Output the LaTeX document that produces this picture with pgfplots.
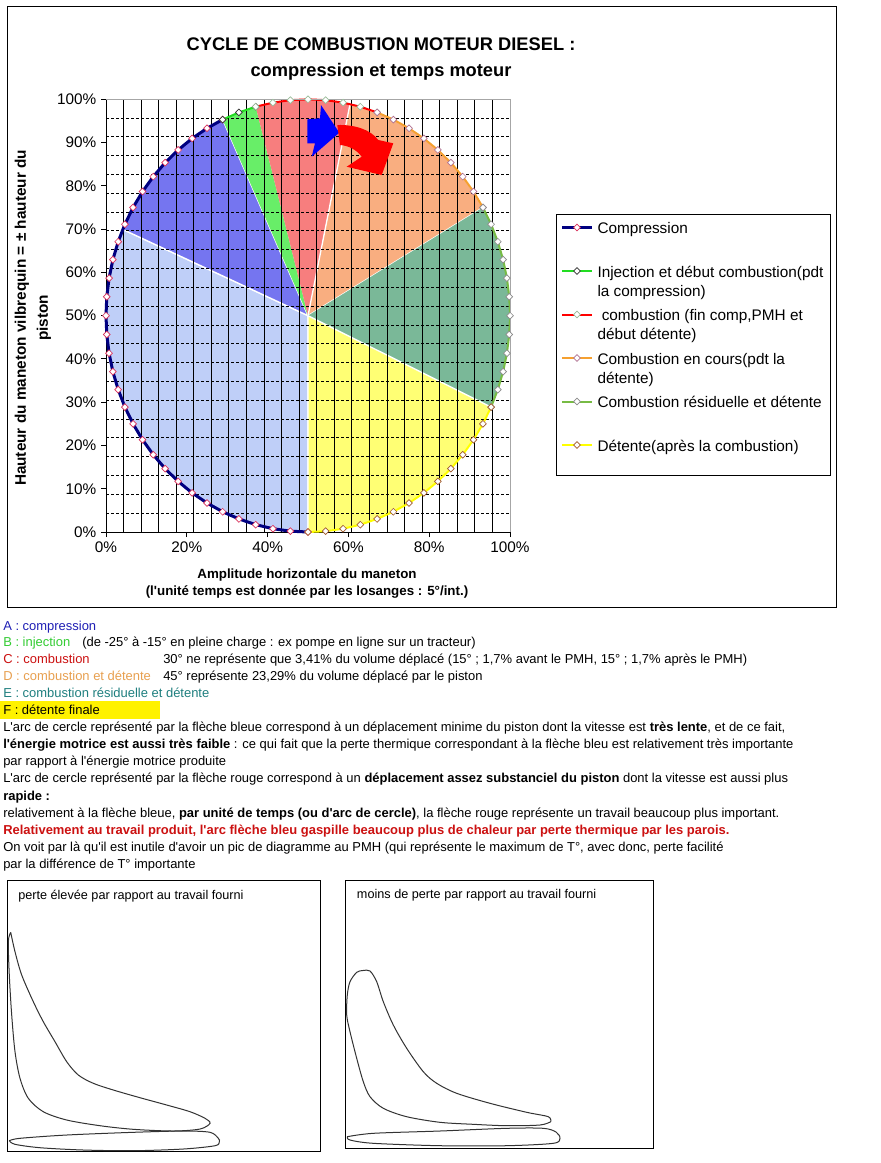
\documentclass[border=0pt]{standalone}
\usepackage{fontspec}
\setmainfont{Liberation Sans}
\usepackage{pgfplots}
\pgfplotsset{compat=1.18}

\definecolor{pieA}{HTML}{BFCFF8}
\definecolor{pieB}{HTML}{7575F0}
\definecolor{pieC}{HTML}{68EE68}
\definecolor{pieD}{HTML}{F77E7E}
\definecolor{pieE}{HTML}{F9AE80}
\definecolor{pieF}{HTML}{7AB898}
\definecolor{pieG}{HTML}{FFFF74}
\definecolor{lnavy}{HTML}{000080}
\definecolor{lgreen}{HTML}{22DD22}
\definecolor{lred}{HTML}{FF0000}
\definecolor{lorange}{HTML}{F5A030}
\definecolor{lolive}{HTML}{77BB44}
\definecolor{lyellow}{HTML}{FFFF00}
\definecolor{mkA}{HTML}{D9305A}
\definecolor{mkB}{HTML}{303030}
\definecolor{mkC}{HTML}{99BB99}
\definecolor{mkD}{HTML}{B07090}
\definecolor{mkE}{HTML}{8A8A8A}
\definecolor{mkF}{HTML}{A05A2C}
\definecolor{txA}{HTML}{1F1FB5}
\definecolor{txB}{HTML}{33CC33}
\definecolor{txC}{HTML}{CC1111}
\definecolor{txD}{HTML}{E8A050}
\definecolor{txE}{HTML}{1F7F7F}
\definecolor{curve}{HTML}{333333}

\newcommand\ap{\textquotesingle}

\pgfplotsset{
  diam/.style={mark=square*, mark size=1.8pt, mark options={rotate=45, fill=white, draw=#1, line width=0.5pt, solid}},
  mainbox/.style={at={(79.5pt,-399pt)}, anchor=south west,
    scale only axis, width=303pt, height=324.5pt,
    xmin=0, xmax=100, ymin=0, ymax=100, clip=false},
}

\begin{document}
\begin{tikzpicture}[x=0.75pt,y=-0.75pt]
\fill[white] (0,0) rectangle (881,1163);
\draw[line width=0.75pt] (7,7) rectangle (836,607);

% titre
\node[anchor=base, inner sep=0pt, font=\fontsize{13.7}{16}\selectfont\bfseries] at (381,50.5) {CYCLE DE COMBUSTION MOTEUR DIESEL :};
\node[anchor=base, inner sep=0pt, font=\fontsize{13.7}{16}\selectfont\bfseries] at (381,77) {compression et temps moteur};

% titres des axes
\node[anchor=base, inner sep=0pt, font=\fontsize{10}{12}\selectfont\bfseries] at (307,578) {Amplitude horizontale du maneton};
\node[anchor=base, inner sep=0pt, font=\fontsize{10}{12}\selectfont\bfseries] at (307,595) {(l\ap unité temps est donnée par les losanges : 5°/int.)};
\node[rotate=90, inner sep=0pt, font=\fontsize{11.5}{13}\selectfont\bfseries] at (22,318) {Hauteur du maneton vilbrequin = ± hauteur du};
\node[rotate=90, inner sep=0pt, font=\fontsize{11.5}{13}\selectfont\bfseries] at (44,318) {piston};

% secteurs (fond, sous la grille)
\begin{axis}[mainbox, hide axis]
\addplot[fill=pieA, draw=white, line width=1pt] coordinates {
(50,50) (50,0) (45.64,0.19) (41.32,0.76) (37.06,1.70) (32.90,3.02) (28.87,4.68) (25.00,6.70) (21.32,9.04) (17.86,11.70) (14.64,14.64) (11.70,17.86) (9.04,21.32) (6.70,25.00) (4.68,28.87) (3.02,32.90) (1.70,37.06) (0.76,41.32) (0.19,45.64) (0,50) (0.19,54.36) (0.76,58.68) (1.70,62.94) (3.02,67.10) (4.15,69.94) (50,50)};
\addplot[fill=pieB, draw=white, line width=1pt] coordinates {
(50,50) (4.15,69.94) (4.68,71.13) (6.70,75.00) (9.04,78.68) (11.70,82.14) (14.64,85.36) (17.86,88.30) (21.32,90.96) (25.00,93.30) (28.87,95.32) (50,50)};
\addplot[fill=pieC, draw=none] coordinates {
(50,50) (28.87,95.32) (32.90,96.98) (37.06,98.30) (50,50)};
\addplot[fill=pieD, draw=none] coordinates {
(50,50) (37.06,98.30) (41.32,99.24) (45.64,99.81) (50,100) (54.36,99.81) (58.68,99.24) (60.40,98.91) (50,50)};
\addplot[fill=pieE, draw=white, line width=1pt] coordinates {
(50,50) (60.40,98.91) (62.94,98.30) (67.10,96.98) (71.13,95.32) (75.00,93.30) (78.68,90.96) (82.14,88.30) (85.36,85.36) (88.30,82.14) (90.96,78.68) (93.30,75.00) (50,50)};
\addplot[fill=pieF, draw=none] coordinates {
(50,50) (93.30,75.00) (95.32,71.13) (96.98,67.10) (98.30,62.94) (99.24,58.68) (99.81,54.36) (100,50) (99.81,45.64) (99.24,41.32) (98.30,37.06) (96.98,32.90) (95.32,28.87) (50,50)};
\addplot[fill=pieG, draw=white, line width=1pt] coordinates {
(50,50) (95.32,28.87) (93.30,25.00) (90.96,21.32) (88.30,17.86) (85.36,14.64) (82.14,11.70) (78.68,9.04) (75.00,6.70) (71.13,4.68) (67.10,3.02) (62.94,1.70) (58.68,0.76) (54.36,0.19) (50,0) (50,50)};
\end{axis}

\begin{axis}[mainbox,
  axis line style={black, line width=0.75pt},
  tick pos=left,
  xtick={0,20,40,60,80,100}, xticklabels={0\%,20\%,40\%,60\%,80\%,100\%},
  ytick={0,10,20,30,40,50,60,70,80,90,100},
  yticklabels={0\%,10\%,20\%,30\%,40\%,50\%,60\%,70\%,80\%,90\%,100\%},
  tick align=outside, major tick length=3.75pt,
  tick style={black, line width=0.75pt},
  tick label style={font=\fontsize{11.5}{13}\selectfont},
  extra x ticks={4.35,8.70,13.04,17.39,21.74,26.09,30.43,34.78,39.13,43.48,47.83,52.17,56.52,60.87,65.22,69.57,73.91,78.26,82.61,86.96,91.30,95.65},
  extra x tick labels={},
  extra x tick style={grid=major, major grid style={black, line width=0.75pt}, major tick length=0pt},
  extra y ticks={4.35,8.70,13.04,17.39,21.74,26.09,30.43,34.78,39.13,43.48,47.83,52.17,56.52,60.87,65.22,69.57,73.91,78.26,82.61,86.96,91.30,95.65},
  extra y tick labels={},
  extra y tick style={grid=major, major grid style={black, line width=0.75pt, dash pattern=on 2.25pt off 1.5pt}, major tick length=0pt},
  legend style={at={(1.1139,0.7349)}, anchor=north west, draw=black, line width=0.75pt, fill=white,
    font=\fontsize{11.5}{14.25}\selectfont, inner xsep=3pt, inner ysep=3.9pt,
    row sep=0pt, column sep=3pt, cells={anchor=north west},
    nodes={inner sep=0pt, text depth={}, text height={}}},
  legend image code/.code={\draw[mark repeat=2,mark phase=2] plot coordinates {(0pt,-5.855pt) (11.25pt,-5.855pt) (22.5pt,-5.855pt)};},
]
% arcs de cercle (un losange tous les 5 degres)
\addplot[lnavy, line width=2.25pt, diam=mkA] coordinates {
(50,0) (45.64,0.19) (41.32,0.76) (37.06,1.70) (32.90,3.02) (28.87,4.68) (25.00,6.70) (21.32,9.04) (17.86,11.70) (14.64,14.64) (11.70,17.86) (9.04,21.32) (6.70,25.00) (4.68,28.87) (3.02,32.90) (1.70,37.06) (0.76,41.32) (0.19,45.64) (0,50) (0.19,54.36) (0.76,58.68) (1.70,62.94) (3.02,67.10) (4.68,71.13) (6.70,75.00) (9.04,78.68) (11.70,82.14) (14.64,85.36) (17.86,88.30) (21.32,90.96) (25.00,93.30) (28.87,95.32)};
\addlegendentry{\parbox[t][32.25pt][t]{171.75pt}{\strut Compression}}
\addplot[lgreen, line width=1.5pt, diam=mkB] coordinates {
(28.87,95.32) (32.90,96.98) (37.06,98.30)};
\addlegendentry{\parbox[t][32.25pt][t]{171.75pt}{\strut Injection et début combustion(pdt\\la compression)}}
\addplot[lred, line width=1.5pt, diam=mkC] coordinates {
(37.06,98.30) (41.32,99.24) (45.64,99.81) (50,100) (54.36,99.81) (58.68,99.24) (62.94,98.30) (67.10,96.98)};
\addlegendentry{\parbox[t][32.25pt][t]{171.75pt}{\strut\ combustion (fin comp,PMH et\\début détente)}}
\addplot[lorange, line width=1.5pt, diam=mkD] coordinates {
(67.10,96.98) (71.13,95.32) (75.00,93.30) (78.68,90.96) (82.14,88.30) (85.36,85.36) (88.30,82.14) (90.96,78.68) (93.30,75.00)};
\addlegendentry{\parbox[t][32.25pt][t]{171.75pt}{\strut Combustion en cours(pdt la\\détente)}}
\addplot[lolive, line width=1.5pt, diam=mkE] coordinates {
(93.30,75.00) (95.32,71.13) (96.98,67.10) (98.30,62.94) (99.24,58.68) (99.81,54.36) (100,50) (99.81,45.64) (99.24,41.32) (98.30,37.06) (96.98,32.90) (95.32,28.87)};
\addlegendentry{\parbox[t][32.25pt][t]{171.75pt}{\strut Combustion résiduelle et détente}}
\addplot[lyellow, line width=1.5pt, diam=mkF] coordinates {
(95.32,28.87) (93.30,25.00) (90.96,21.32) (88.30,17.86) (85.36,14.64) (82.14,11.70) (78.68,9.04) (75.00,6.70) (71.13,4.68) (67.10,3.02) (62.94,1.70) (58.68,0.76) (54.36,0.19) (50,0)};
\addlegendentry{\parbox[t][24.75pt][t]{171.75pt}{\strut Détente(après la combustion)}}

% fleches
\fill[blue] (axis cs:49.83,95.38) -- (axis cs:52.97,95.61) -- (axis cs:53.22,98.68) -- (axis cs:57.75,92.28) -- (axis cs:50.92,86.74) -- (axis cs:51.73,89.83) -- (axis cs:49.83,89.83) -- cycle;
\fill[red] (axis cs:57.25,94.06) .. controls (axis cs:61.5,94.2) and (axis cs:65.5,93.0) .. (axis cs:67.40,90.60) -- (axis cs:71.11,89.83) -- (axis cs:68.24,82.51) -- (axis cs:59.58,84.42) -- (axis cs:63.29,86.74) .. controls (axis cs:62.0,88.4) and (axis cs:60.0,89.3) .. (axis cs:57.92,89.44) -- cycle;
\draw[gray!70, line width=0.75pt] (axis cs:0,100) -- (axis cs:100,100) -- (axis cs:100,0);
\end{axis}

% texte
\begin{scope}[every node/.style={anchor=base west, inner sep=0pt}, font=\fontsize{9.72}{12}\selectfont]
\fill[yellow] (0,701) rectangle (160,719);
\node[text=txA] at (3,630) {A : compression};
\node[text=txB] at (3,646.5) {B : injection};
\node at (82,646.5) {(de -25° à -15° en pleine charge : ex pompe en ligne sur un tracteur)};
\node[text=txC] at (3,663.5) {C : combustion};
\node at (163,663.5) {30° ne représente que 3,41\% du volume déplacé (15° ; 1,7\% avant le PMH, 15° ; 1,7\% après le PMH)};
\node[text=txD] at (3,680) {D : combustion et détente};
\node at (163,680) {45° représente 23,29\% du volume déplacé par le piston};
\node[text=txE] at (3,697) {E : combustion résiduelle et détente};
\node at (3,714) {F : détente finale};
\node at (3,731) {L\ap arc de cercle représenté par la flèche bleue correspond à un déplacement minime du piston dont la vitesse est \textbf{très lente}, et de ce fait,};
\node at (3,748.5) {\textbf{l\ap énergie motrice est aussi très faible} : ce qui fait que la perte thermique correspondant à la flèche bleu est relativement très importante};
\node at (3,765.5) {par rapport à l\ap énergie motrice produite};
\node at (3,782.5) {L\ap arc de cercle représenté par la flèche rouge correspond à un \textbf{déplacement assez substanciel du piston} dont la vitesse est aussi plus};
\node at (3,800) {\textbf{rapide :}};
\node at (3,817) {relativement à la flèche bleue, \textbf{par unité de temps (ou d\ap arc de cercle)}, la flèche rouge représente un travail beaucoup plus important.};
\node[text=txC] at (3,834) {\textbf{Relativement au travail produit, l\ap arc flèche bleu gaspille beaucoup plus de chaleur par perte thermique par les parois.}};
\node at (3,851) {On voit par là qu\ap il est inutile d\ap avoir un pic de diagramme au PMH (qui représente le maximum de T°, avec donc, perte facilité};
\node at (3,868) {par la différence de T° importante};
\end{scope}

% petits diagrammes
\begin{axis}[
  at={(5.475pt,-863.25pt)}, anchor=south west,
  scale only axis, width=235.05pt, height=203.25pt,
  xmin=7.3, xmax=320.7, ymin=880, ymax=1151, y dir=reverse,
  xtick=\empty, ytick=\empty, clip=false,
  axis line style={black, line width=0.75pt},
]
\addplot[curve, line width=0.75pt, smooth, tension=0.5] coordinates {
(10.7,932.3) (15,951.7) (21.7,975) (33.3,1001.7) (43.3,1021.7) (55,1041.7) (66.7,1061.7) (78.3,1075) (93.3,1083.3) (113.3,1090) (140,1097.7) (166.7,1105) (190,1111.7) (205,1118.3) (210,1123.3) (200,1129) (173.3,1131) (133.3,1129.3) (100,1125.7) (66.7,1120) (43.3,1111.7) (28.3,1098.3) (20,1078.3) (15,1051.7) (11.7,1015) (9.3,975) (8.3,941.7) (10.7,932.3)};
\addplot[curve, line width=0.75pt, smooth, tension=0.5] coordinates {
(9.3,1140.7) (20,1138.3) (66.7,1135) (133.3,1132.3) (183.3,1131) (210,1132.3) (218.3,1138.3) (219.3,1141.7) (215,1145.7) (183.3,1149) (133.3,1150.7) (83.3,1150) (40,1147.7) (15,1144.3) (9.3,1140.7)};
\node[anchor=west, inner sep=0pt, font=\fontsize{9.5}{11}\selectfont] at (axis cs:18,895.7) {perte élevée par rapport au travail fourni};
\end{axis}

\begin{axis}[
  at={(259.275pt,-861pt)}, anchor=south west,
  scale only axis, width=230.7pt, height=201pt,
  xmin=345.7, xmax=653.3, ymin=880, ymax=1148, y dir=reverse,
  xtick=\empty, ytick=\empty, clip=false,
  axis line style={black, line width=0.75pt},
]
\addplot[curve, line width=0.75pt, smooth, tension=0.5] coordinates {
(550.7,1121.7) (540,1125) (506.7,1125.7) (473.3,1124.3) (440,1122.3) (406.7,1116.7) (383.3,1108.3) (370,1096.7) (363.3,1081.7) (356.7,1058.3) (350,1031.7) (346.7,1015) (347.3,995) (350,981.7) (356.7,972.3) (363,970.5) (370,971) (376.7,981.7) (383.3,1001.7) (393.3,1025) (406.7,1048.3) (423.3,1071.7) (436.7,1083.3) (456.7,1093.3) (490,1103.3) (526.7,1112.3) (548.3,1116.7) (550.7,1121.7)};
\addplot[curve, line width=0.75pt, smooth, tension=0.5] coordinates {
(347.3,1136.7) (373.3,1133.3) (440,1131) (506.7,1128.3) (543.3,1128.3) (556,1132) (560,1138.3) (553.3,1143.3) (506.7,1145.7) (440,1145.7) (373.3,1143.3) (350,1140) (347.3,1136.7)};
\node[anchor=west, inner sep=0pt, font=\fontsize{9.5}{11}\selectfont] at (axis cs:356.7,895.7) {moins de perte par rapport au travail fourni};
\end{axis}

\pgfresetboundingbox
\path (0,0) rectangle (881,1163);
\end{tikzpicture}
\end{document}
